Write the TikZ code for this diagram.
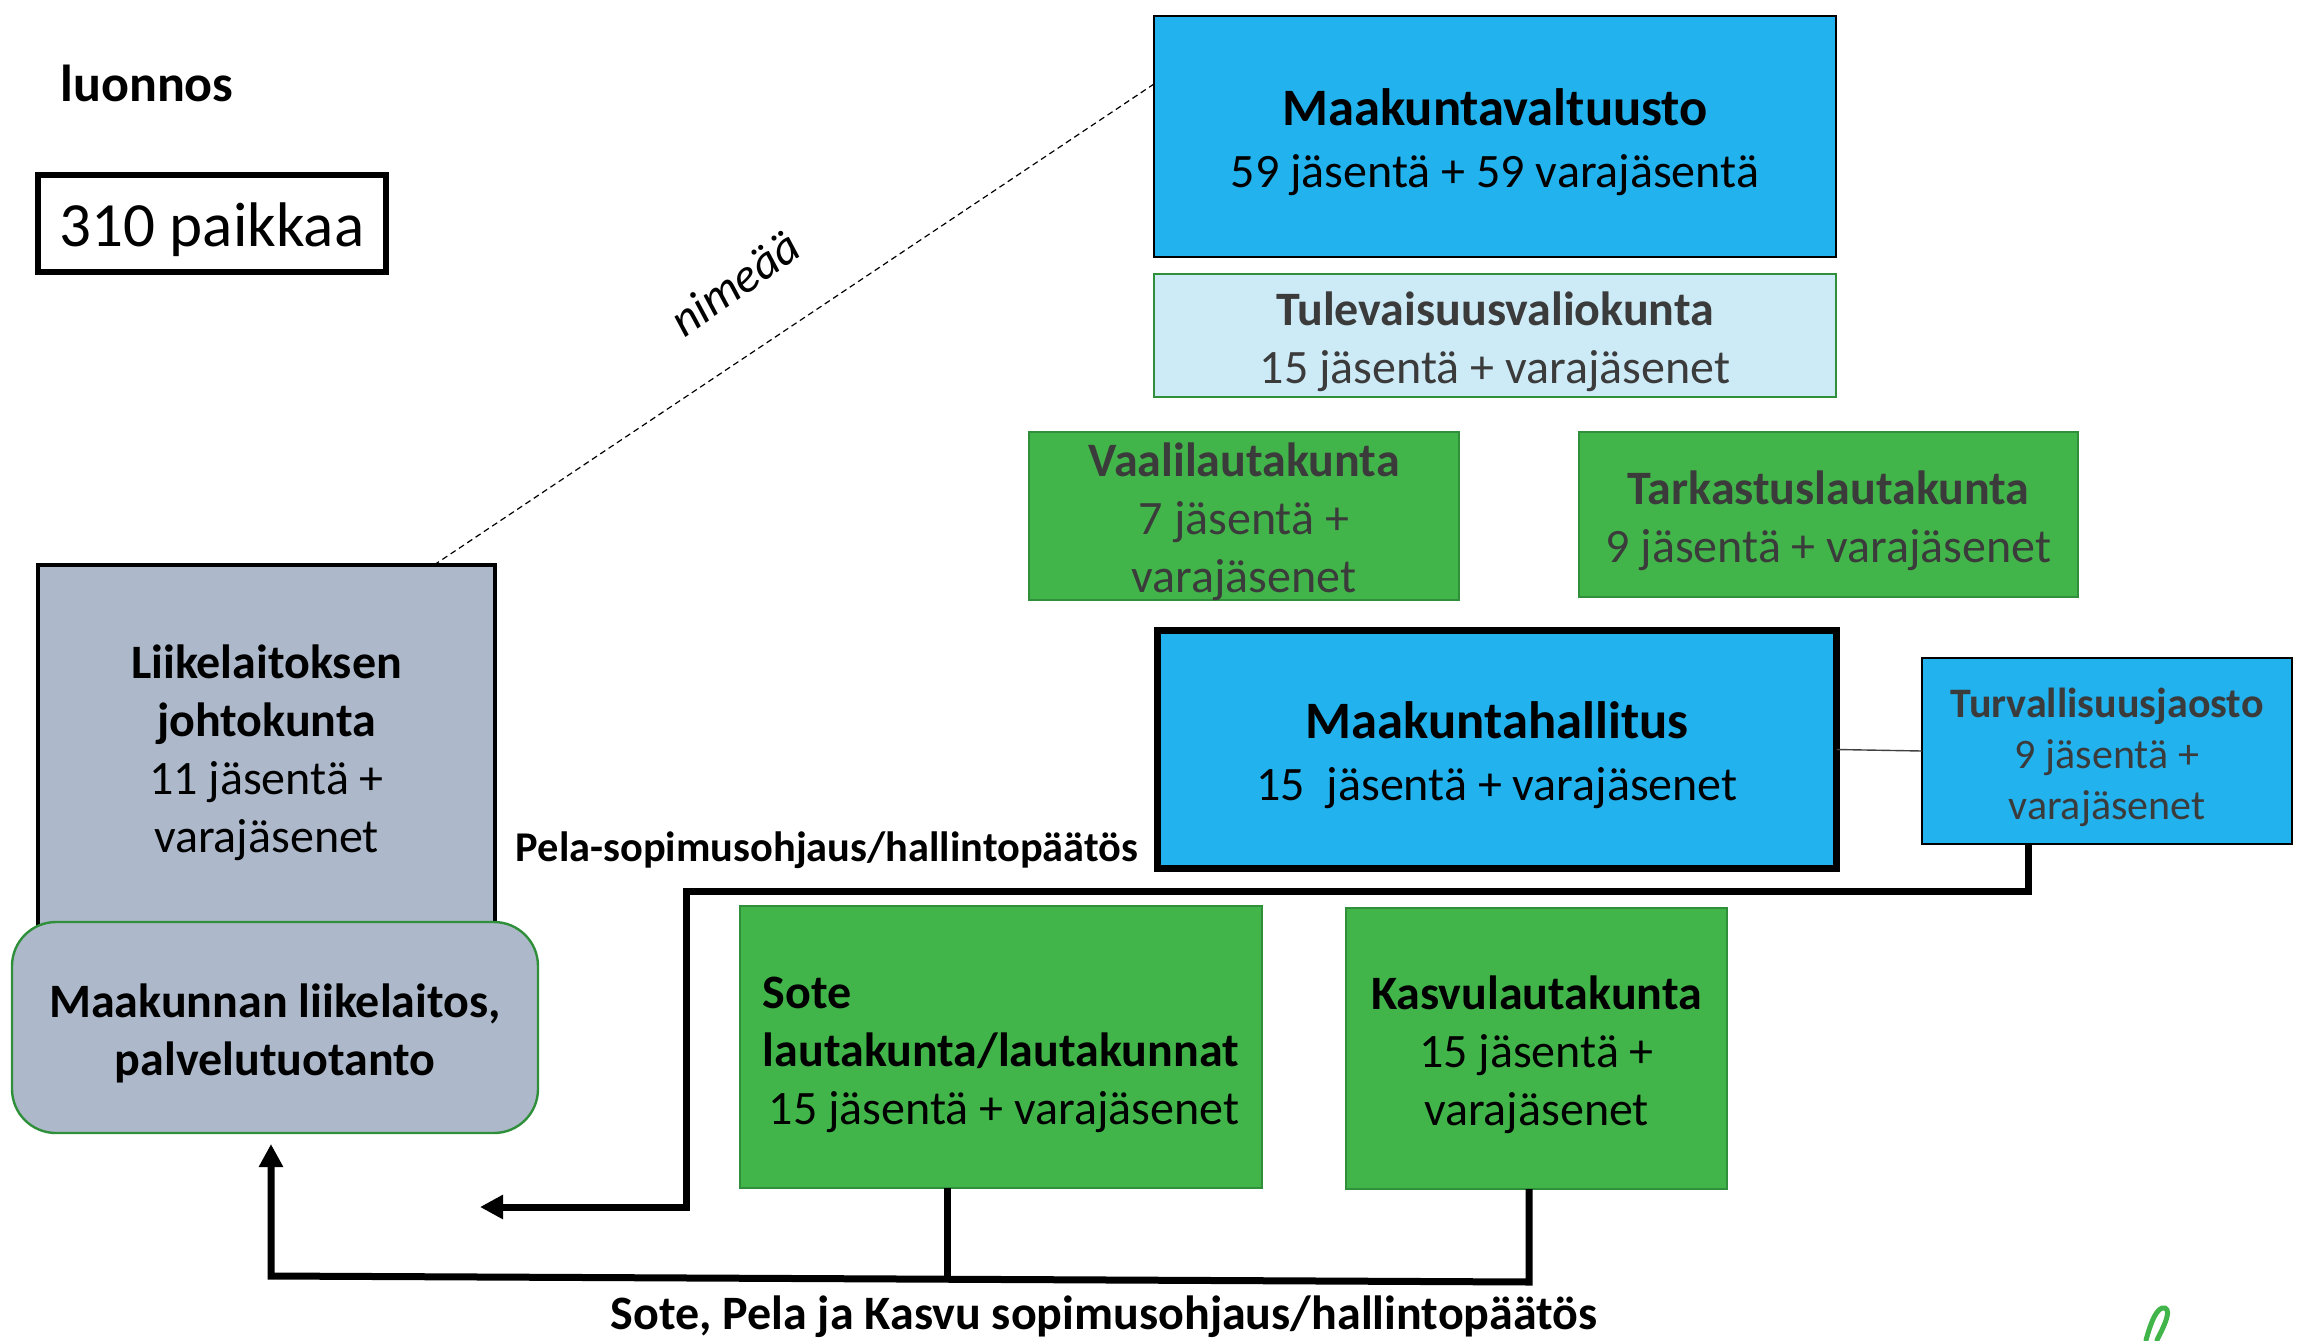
\documentclass[tikz,border=0pt]{standalone}
\usepackage{fontspec}
\setmainfont{Carlito}
\usetikzlibrary{arrows.meta,calc}
\definecolor{cblue}{HTML}{22B2EE}
\definecolor{cgreen}{HTML}{42B54A}
\definecolor{cgreenb}{HTML}{2F8F3A}
\definecolor{clight}{HTML}{CDEBF7}
\definecolor{cgray}{HTML}{ADB9CA}
\definecolor{ctext}{HTML}{3B3B3B}
\newcommand\fbody{\fontsize{24}{29}\selectfont}
\newcommand\ftitle{\fontsize{26.3}{31}\selectfont\bfseries}
\newcommand\fsmall{\fontsize{21}{25.5}\selectfont}
% style, name, cx, cy, w, h, text
\newcommand\bx[7]{%
  \node[#1, sized={#5}{#6}] (#2) at (#3,#4) {};
  \node[box, #1, draw=none, fill=none, rounded corners=0pt, minimum width=0pt,
        minimum height=0pt] (#2t) at (#3,#4+6) {#7};}
\begin{document}
\begin{tikzpicture}[x=0.5pt,y=-0.5pt,
  box/.style={inner sep=0pt, outer sep=0pt, align=center, font=\fbody},
  sized/.style 2 args={minimum width=#1*0.5pt, minimum height=#2*0.5pt},
  bluebox/.style={box, draw=black, fill=cblue, line width=1pt},
  greenbox/.style={box, draw=cgreenb, fill=cgreen, line width=1.2pt},
  thickline/.style={line width=3.5pt},
  tip/.style={-{Triangle[length=11.5pt,width=11.5pt]}}]
\useasboundingbox (0,0) rectangle (2299,1340);

% top-left
\node[font=\fontsize{26}{31}\selectfont\bfseries] (luonnos) at (147,83) {luonnos};
\bx{box, draw=black, line width=3pt, font=\fontsize{31.5}{38}\selectfont}{paikat}{212}{223.5}{348}{97}
  {310 paikkaa}

% council
\bx{bluebox}{mv}{1495}{136.5}{682}{241}
  {{\ftitle Maakuntavaltuusto}\\[2pt] 59 jäsentä + 59 varajäsentä}
\bx{box, draw=cgreenb, fill=clight, line width=1.2pt, text=ctext}{tv}{1495}{335.5}{682}{123}
  {{\bfseries Tulevaisuusvaliokunta}\\ 15 jäsentä + varajäsenet}
\bx{greenbox, text=ctext}{vaali}{1244}{516}{430}{168}
  {{\bfseries Vaalilautakunta}\\ 7 jäsentä +\\ varajäsenet}
\bx{greenbox, text=ctext}{tark}{1828.5}{514.5}{499}{165}
  {{\bfseries Tarkastuslautakunta}\\ 9 jäsentä + varajäsenet}
\bx{box, draw=black, fill=cblue, line width=3.6pt}{mh}{1497}{749.5}{679}{238}
  {{\ftitle Maakuntahallitus}\\[2pt] 15\ \ jäsentä + varajäsenet}
\bx{bluebox, text=ctext, font=\fsmall}{tj}{2107}{751}{370}{186}
  {{\bfseries Turvallisuusjaosto}\\ 9 jäsentä +\\ varajäsenet}

% left side
\bx{box, draw=black, fill=cgray, line width=2pt}{lj}{266.5}{747}{457}{364}
  {{\bfseries Liikelaitoksen}\\ {\bfseries johtokunta}\\ 11 jäsentä +\\ varajäsenet}
\bx{box, draw=cgreenb, fill=cgray, line width=1.2pt, rounded corners=22pt}{ml}{275}{1027.5}{526}{211}
  {{\bfseries Maakunnan liikelaitos,}\\ {\bfseries palvelutuotanto}}

% committees
\node[greenbox, sized={522}{282}] (sote) at (1001,1047) {};
\node[box, align=left] (sotet) at (1001,1055)
  {{\bfseries Sote}\\ {\bfseries lautakunta/lautakunnat}\\ \hspace{3pt}15 jäsentä + varajäsenet};
\bx{greenbox}{kasvu}{1536.5}{1048.5}{381}{281}
  {{\bfseries Kasvulautakunta}\\ 15 jäsentä +\\ varajäsenet}

% labels
\node[font=\fontsize{21.2}{25}\selectfont\bfseries] (pela) at (827,850)
  {Pela-sopimusohjaus/hallintopäätös};
\node[font=\fontsize{24}{29}\selectfont\bfseries] (bottom) at (1104,1317)
  {Sote, Pela ja Kasvu sopimusohjaus/hallintopäätös};

% dashed nimeää line
\coordinate (dA) at (434,565);
\coordinate (dB) at (1154,84);
\draw[line width=0.6pt, dash pattern=on 3pt off 2pt] (dA) -- (dB);
\node[font=\fontsize{24}{29}\selectfont\itshape, rotate=35] (nim) at (735,283) {nimeää};

% thin link
\draw[line width=0.7pt, draw=black!75] (mh.east) -- (tj.west);

% Pela arrow
\coordinate (p1) at (2028,844);
\coordinate (p2) at (2028,891);
\coordinate (p3) at (686,891);
\coordinate (p4) at (686,1207);
\coordinate (p5) at (480,1207);
\draw[thickline, tip] (p1) -- (p2) -- (p3) -- (p4) -- (p5);

% bottom arrow
\coordinate (s1) at (947,1188);
\coordinate (s2) at (947,1279);
\coordinate (k1) at (1529,1189);
\coordinate (k2) at (1529,1282);
\coordinate (b1) at (271,1276);
\coordinate (b2) at (271,1144);
\draw[thickline] (s1) -- (s2);
\draw[thickline, tip] (k1) -- (k2) -- (b1) -- (b2);

% partial green logo
\draw[cgreen, line width=2.5pt, line cap=round]
  (2146,1340) .. controls (2151,1322) and (2157,1306) .. (2165,1308)
  .. controls (2172,1311) and (2163,1328) .. (2157,1340);
\end{tikzpicture}
\end{document}
